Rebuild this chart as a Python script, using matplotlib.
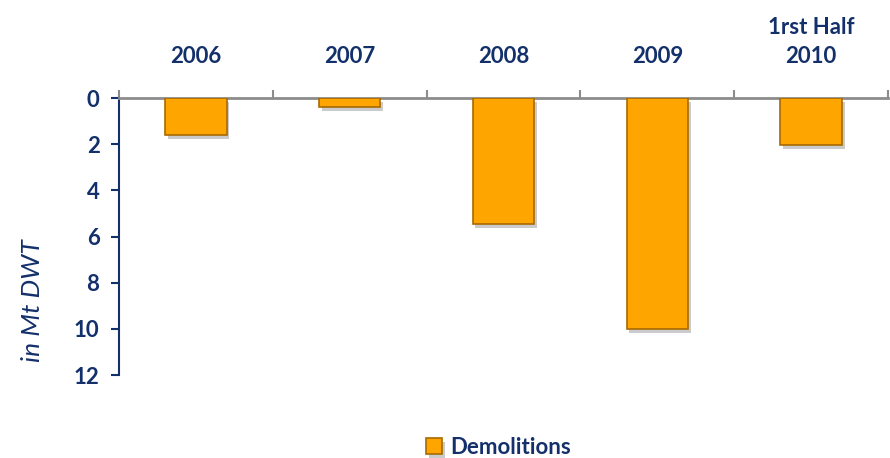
import matplotlib
matplotlib.use("Agg")
import matplotlib.pyplot as plt
import matplotlib.patheffects as pe
import numpy as np

categories = ["2006", "2007", "2008", "2009", "1rst Half\n2010"]
demolitions = [1.6, 0.4, 5.45, 10.0, 2.03]

navy = "#14306B"
orange = "#FFA500"
edge = "#A86A00"

plt.rcParams['font.family'] = ['Lato', 'DejaVu Sans']

fig = plt.figure(figsize=(8.9, 4.58), dpi=100)
ax = fig.add_axes([0.1337, 0.181, 0.864, 0.605])

x = np.arange(len(categories))
bars = ax.bar(x, demolitions, width=0.4, color=orange, edgecolor=edge, linewidth=1.2,
              label="Demolitions", zorder=3)
for b in bars:
    b.set_path_effects([pe.SimplePatchShadow(offset=(2, -3), shadow_rgbFace="#999999", alpha=0.5),
                        pe.Normal()])

ax.set_xlim(-0.5, len(categories) - 0.5)
ax.set_ylim(12, 0)
ax.set_yticks(range(0, 13, 2))

ax.xaxis.set_ticks_position("top")
ax.set_xticks(x)
ax.set_xticklabels(categories, linespacing=1.5)
ax.set_xticks(np.arange(-0.5, len(categories)), minor=True)
ax.tick_params(axis="x", which="major", length=0, pad=22, labelsize=16, labelcolor=navy)
ax.tick_params(axis="x", which="minor", length=6, width=1.5, color="#8C8C8C", direction="out")
for lab in ax.get_xticklabels():
    lab.set_fontweight("bold")

ax.tick_params(axis="y", length=6, width=1.5, color=navy, labelsize=16, labelcolor=navy, pad=8)
for lab in ax.get_yticklabels():
    lab.set_fontweight("bold")

ax.spines["top"].set_color("#8C8C8C")
ax.spines["top"].set_linewidth(2)
ax.spines["left"].set_color(navy)
ax.spines["left"].set_linewidth(1.5)
ax.spines["right"].set_visible(False)
ax.spines["bottom"].set_visible(False)

ax.set_ylabel("in Mt DWT", fontsize=19, style="italic", color=navy)
ax.yaxis.set_label_coords(-0.098, 0.27)

leg = fig.legend(loc="center", bbox_to_anchor=(0.56, 0.024), frameon=False,
                 handlelength=0.75, handleheight=0.75, handletextpad=0.35,
                 prop={"weight": "bold", "size": 16})
for t in leg.get_texts():
    t.set_color(navy)

fig.savefig("out.png", dpi=100)
